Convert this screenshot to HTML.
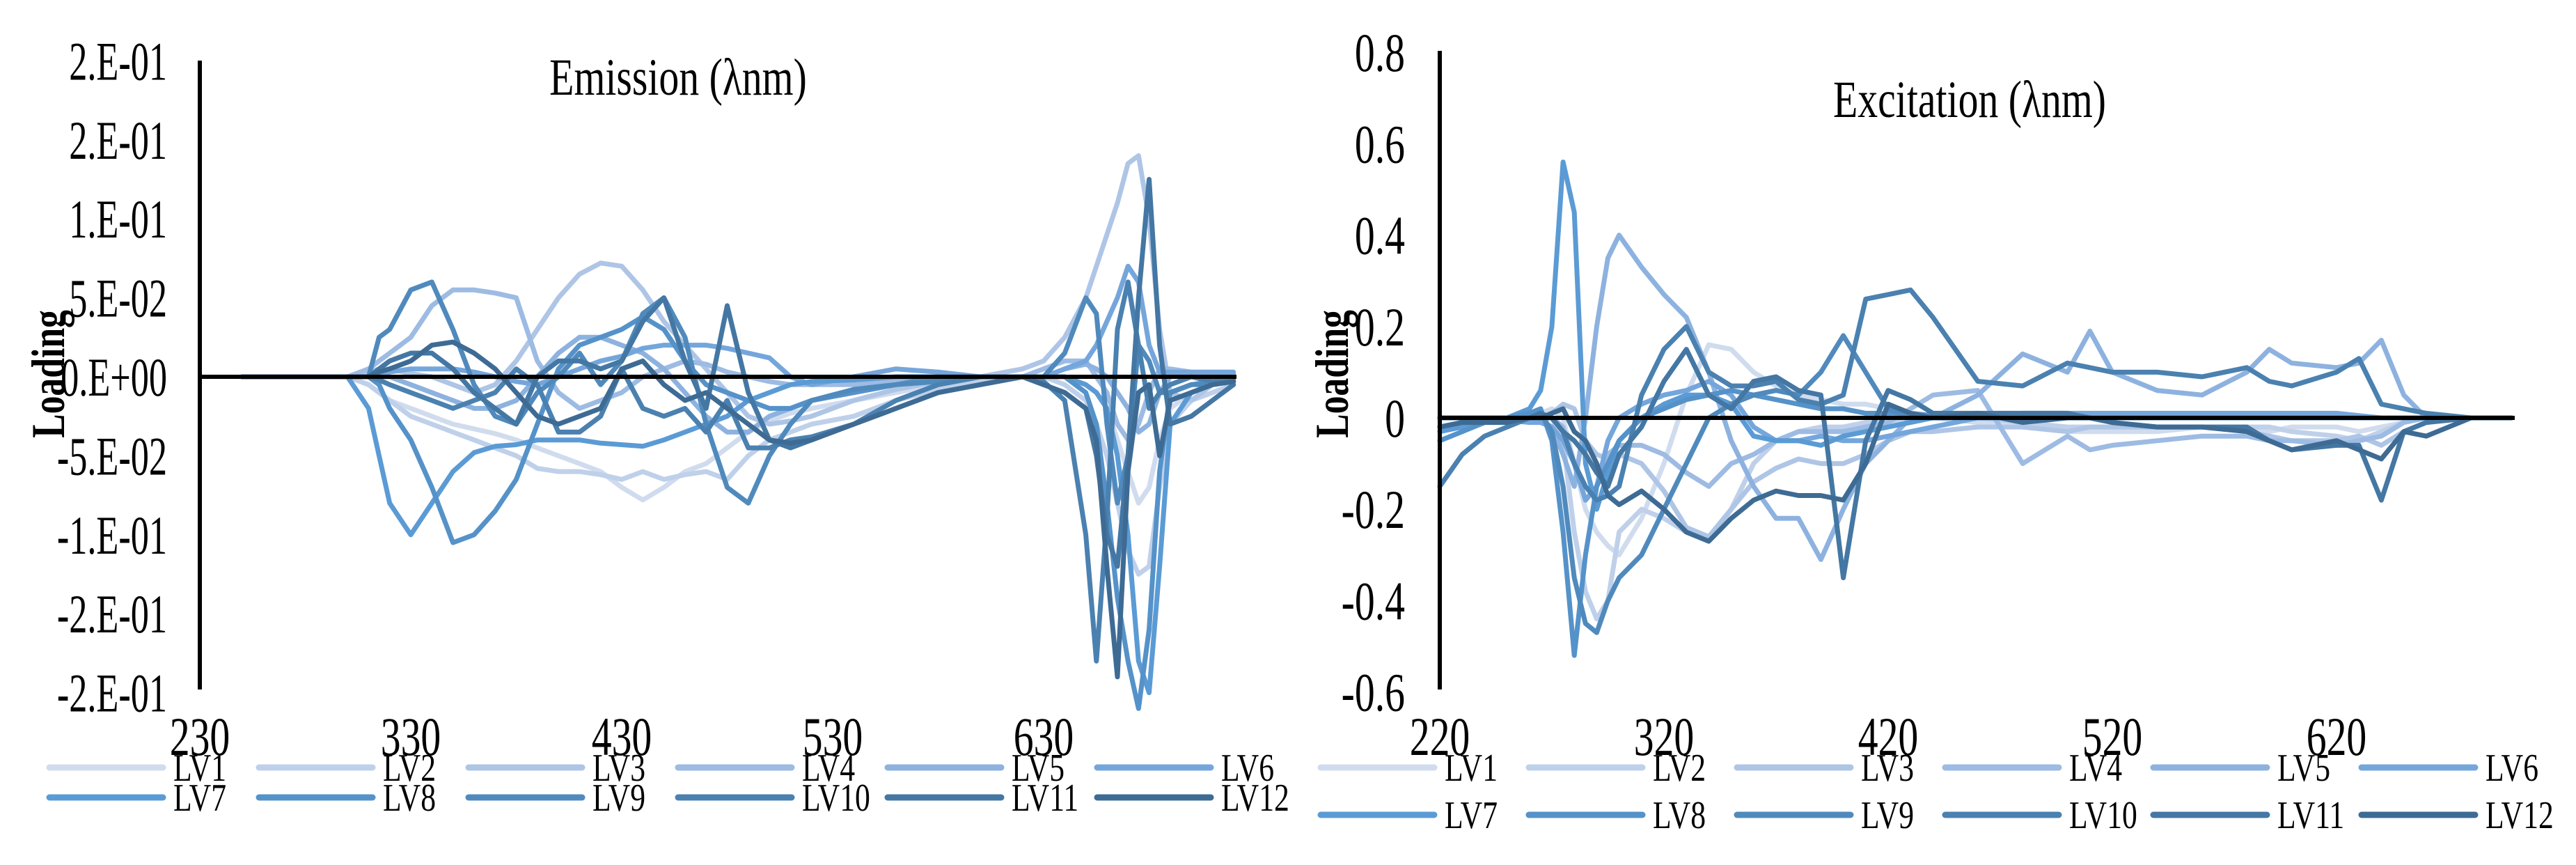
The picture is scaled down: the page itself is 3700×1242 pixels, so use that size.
<!DOCTYPE html>
<html><head><meta charset="utf-8"><style>
html,body{margin:0;padding:0;background:#fff;}
svg{display:block;font-family:"Liberation Serif",serif;}
</style></head><body>
<svg id="chart" width="3700" height="1242" viewBox="0 0 3700 1242" xmlns="http://www.w3.org/2000/svg">
<rect width="3700" height="1242" fill="#fff"/>
<g id="em"></g>
<g id="ex"></g>
</svg>
<script>
const colors=["#d0dcee","#bfd0ea","#aec5e6","#9dbbe3","#8db2df","#74a6dc","#5b9bd5","#5592c9","#508abd","#4a81b0","#4477a3","#3e6b94"];
const seriesNames=["LV1","LV2","LV3","LV4","LV5","LV6","LV7","LV8","LV9","LV10","LV11","LV12"];
const emTicksY=[0.2,0.15,0.1,0.05,0,-0.05,-0.1,-0.15,-0.2];
const emTickLabelsY=["2.E-01","2.E-01","1.E-01","5.E-02","0.E+00","-5.E-02","-1.E-01","-2.E-01","-2.E-01"];
const emTicksX=[230,330,430,530,630];
const exTicksY=[0.8,0.6,0.4,0.2,0,-0.2,-0.4,-0.6];
const exTickLabelsY=["0.8","0.6","0.4","0.2","0","-0.2","-0.4","-0.6"];
const exTicksX=[220,320,420,520,620];
const emWl=[250,270,290,300,310,315,320,330,340,350,360,370,380,390,400,410,420,430,440,450,460,470,480,490,500,510,520,540,560,580,600,620,630,640,650,655,660,665,670,675,680,685,690,700,710,720];
const emLV1=[0,0,0,0,-0.005,-0.01,-0.015,-0.02,-0.025,-0.03,-0.033,-0.036,-0.04,-0.045,-0.05,-0.055,-0.06,-0.07,-0.078,-0.07,-0.06,-0.055,-0.045,-0.035,-0.028,-0.023,-0.02,-0.015,-0.01,-0.005,-0.002,0,0,0,-0.005,-0.01,-0.02,-0.04,-0.06,-0.08,-0.07,-0.04,-0.02,-0.01,-0.005,-0.003];
const emLV2=[0,0,0,0,-0.005,-0.01,-0.015,-0.025,-0.03,-0.035,-0.04,-0.045,-0.05,-0.058,-0.06,-0.06,-0.062,-0.065,-0.06,-0.065,-0.062,-0.06,-0.065,-0.05,-0.04,-0.035,-0.03,-0.025,-0.015,-0.008,-0.003,0,0,-0.005,-0.015,-0.03,-0.05,-0.08,-0.11,-0.125,-0.12,-0.07,-0.03,-0.015,-0.01,-0.005];
const emLV3=[0,0,0,0,0.003,0.005,0.005,0.002,0,-0.005,-0.01,-0.005,0.01,0.03,0.05,0.065,0.072,0.07,0.055,0.035,0.02,0.005,-0.01,-0.025,-0.03,-0.028,-0.025,-0.015,-0.008,-0.003,0,0.005,0.01,0.025,0.05,0.07,0.09,0.11,0.135,0.14,0.1,0.03,-0.01,-0.015,-0.005,0];
const emLV4=[0,0,0,0,0.005,0.01,0.015,0.025,0.045,0.055,0.055,0.053,0.05,0.01,-0.01,-0.02,-0.015,-0.01,0,0.005,0.01,0.008,0.003,0,-0.003,-0.005,-0.005,-0.005,-0.003,0,0,0,0.005,0.01,0.01,0,-0.01,-0.03,-0.04,-0.03,-0.01,0.005,0.005,0.003,0.002,0.002];
const emLV5=[0,0,0,0,0,0,0,-0.005,-0.01,-0.015,-0.02,-0.02,-0.015,0,0.015,0.025,0.025,0.02,0.015,0.005,-0.01,-0.025,-0.035,-0.035,-0.025,-0.02,-0.015,-0.01,-0.005,-0.003,0,0,0,0.005,0.008,0.005,0,-0.01,-0.02,-0.035,-0.03,-0.01,0,0.002,0.002,0.002];
const emLV6=[0,0,0,0,0,0.002,0.003,0.005,0.005,0.005,0.003,0,-0.003,-0.005,0,0.005,0.01,0.013,0.018,0.02,0.02,0.02,0.018,0.015,0.012,0,-0.005,0,0.005,0.003,0,0,0,0.005,0.01,0.02,0.035,0.05,0.07,0.06,0.02,0.003,0.003,0.003,0.003,0.003];
const emLV7=[0,0,0,0,-0.02,-0.05,-0.08,-0.1,-0.08,-0.06,-0.048,-0.044,-0.043,-0.04,-0.04,-0.04,-0.042,-0.043,-0.044,-0.04,-0.035,-0.03,-0.025,-0.015,-0.01,-0.005,-0.003,-0.002,0,0,0,0,0,0,-0.005,-0.01,-0.02,-0.05,-0.1,-0.18,-0.2,-0.12,-0.03,-0.01,-0.005,-0.003];
const emLV8=[0,0,0,0,0,-0.005,-0.02,-0.04,-0.07,-0.105,-0.1,-0.085,-0.065,-0.03,0.005,0.02,0.025,0.03,0.038,0.03,0.01,-0.005,-0.01,-0.015,-0.02,-0.02,-0.015,-0.01,-0.005,0,0,0,0,0,-0.01,-0.03,-0.08,-0.14,-0.18,-0.21,-0.16,-0.06,-0.01,-0.005,-0.003,-0.002];
const emLV9=[0,0,0,0,0,0.025,0.03,0.055,0.06,0.03,-0.005,-0.025,-0.03,-0.01,0,0.015,-0.005,0.01,0.04,0.05,0.025,-0.03,-0.07,-0.08,-0.05,-0.03,-0.015,-0.008,-0.005,-0.003,0,0,0,0.015,0.05,0.04,-0.03,-0.08,-0.05,0.02,0.01,-0.01,-0.01,-0.005,-0.005,-0.003];
const emLV10=[0,0,0,0,0,-0.002,-0.005,-0.01,-0.015,-0.02,-0.015,-0.01,0.005,-0.005,-0.035,-0.035,-0.025,0.005,-0.02,-0.025,-0.02,-0.035,-0.015,-0.045,-0.045,-0.04,-0.038,-0.03,-0.015,-0.005,0,0,-0.003,-0.015,-0.1,-0.18,-0.09,0.03,0.06,0.02,-0.02,-0.01,-0.005,0,-0.003,-0.003];
const emLV11=[0,0,0,0,0,0.005,0.01,0.015,0.015,0.005,-0.01,-0.02,-0.03,0,0.01,0.01,0.005,0.01,0.035,0.05,0.01,-0.02,0.045,-0.01,-0.04,-0.045,-0.04,-0.03,-0.02,-0.01,-0.005,0,-0.005,-0.01,-0.02,-0.05,-0.1,-0.12,-0.05,0.05,0.125,0.02,-0.03,-0.025,-0.015,-0.005];
const emLV12=[0,0,0,0,0,0.003,0.005,0.01,0.02,0.022,0.015,0.005,-0.01,-0.025,-0.03,-0.025,-0.02,0.005,0.01,-0.005,-0.015,-0.01,-0.02,-0.03,-0.04,-0.042,-0.04,-0.03,-0.02,-0.01,-0.005,0,-0.005,-0.01,-0.02,-0.04,-0.12,-0.19,-0.06,-0.01,-0.005,-0.05,-0.015,-0.01,-0.005,-0.003];
const exWl=[220,230,240,250,260,265,270,275,280,285,290,295,300,310,320,330,340,350,360,370,380,390,400,410,420,430,440,460,480,500,510,520,540,560,580,590,600,620,630,640,650,660,680,698];
const exLV1=[0,0,0,0,0.005,0.01,0.02,0,-0.1,-0.2,-0.25,-0.28,-0.3,-0.22,-0.1,0.05,0.16,0.15,0.1,0.07,0.05,0.04,0.03,0.03,0.02,0.01,0,-0.01,-0.02,-0.03,-0.03,-0.03,-0.03,-0.02,-0.02,-0.03,-0.02,-0.02,-0.03,-0.02,-0.01,0,0,0];
const exLV2=[0,0,0,0,0,0,0,-0.05,-0.25,-0.38,-0.44,-0.4,-0.25,-0.2,-0.22,-0.25,-0.27,-0.2,-0.1,-0.05,-0.03,-0.02,-0.02,-0.01,-0.01,-0.005,0,0,-0.01,-0.02,-0.02,-0.02,-0.02,-0.02,-0.02,-0.02,-0.03,-0.04,-0.05,-0.03,-0.01,0,0,0];
const exLV3=[0,0,0,0,0,0,0.01,0.03,0.02,-0.05,-0.08,-0.09,-0.08,-0.1,-0.16,-0.24,-0.26,-0.2,-0.14,-0.11,-0.09,-0.1,-0.1,-0.08,-0.05,-0.03,-0.03,-0.02,-0.02,-0.03,-0.02,-0.02,-0.02,-0.02,-0.03,-0.04,-0.05,-0.05,-0.04,-0.06,-0.03,-0.01,0,0];
const exLV4=[0,0,0,0,0,0,0,-0.02,-0.1,-0.18,-0.15,-0.08,-0.06,-0.06,-0.08,-0.12,-0.15,-0.1,-0.08,-0.05,-0.03,-0.03,-0.03,-0.02,-0.01,0.02,0.05,0.06,-0.1,-0.04,-0.07,-0.06,-0.05,-0.04,-0.04,-0.05,-0.05,-0.06,-0.05,-0.04,-0.01,0,0,0];
const exLV5=[0,0,0,0,0,-0.005,-0.02,-0.08,-0.15,0,0.2,0.35,0.4,0.33,0.27,0.22,0.1,-0.05,-0.15,-0.22,-0.22,-0.31,-0.2,-0.1,-0.05,0,0,0.05,0.14,0.1,0.19,0.1,0.06,0.05,0.1,0.15,0.12,0.11,0.12,0.17,0.05,0,0,0];
const exLV6=[0,0,0,-0.005,-0.01,-0.01,-0.02,-0.05,-0.1,-0.18,-0.15,-0.05,0,0.03,0.05,0.06,0.08,0.05,-0.02,-0.05,-0.05,-0.04,-0.05,-0.05,-0.04,-0.03,-0.02,0,0.01,0.01,0.01,0.01,0.01,0.01,0.01,0.01,0.01,0.01,0.005,0,0,0,0,0];
const exLV7=[-0.03,-0.02,-0.01,0,0.02,0.06,0.2,0.56,0.45,-0.1,-0.2,-0.12,-0.05,0,0.03,0.05,0.05,0.03,-0.04,-0.05,-0.05,-0.06,-0.04,-0.03,-0.02,-0.01,0,0,0,0,0,0,0,0,0,0,0,0,0,0,0,0,0,0];
const exLV8=[-0.05,-0.03,-0.01,0,0.01,0.02,-0.05,-0.25,-0.52,-0.3,-0.15,-0.1,-0.05,0,0.02,0.04,0.05,0.06,0.05,0.04,0.03,0.02,0.02,0.01,0.01,0.01,0.005,0,0,0,0,0,0,0,0,0,0,0,0,0,0,0,0,0];
const exLV9=[-0.02,-0.01,0,0,0,0.01,-0.03,-0.15,-0.35,-0.45,-0.47,-0.4,-0.35,-0.3,-0.2,-0.1,0,0.03,0.05,0.06,0.05,0.1,0.18,0.1,0.02,0,0,0,0,0,0,0,0,0,0,0,0,0,0,0,0,0,0,0];
const exLV10=[-0.15,-0.08,-0.04,-0.02,0,0,0,-0.03,-0.1,-0.15,-0.18,-0.17,-0.15,0.05,0.15,0.2,0.1,0.07,0.07,0.08,0.04,0.03,0.05,0.26,0.27,0.28,0.22,0.08,0.07,0.12,0.11,0.1,0.1,0.09,0.11,0.08,0.07,0.1,0.13,0.03,0.02,0.01,0,0];
const exLV11=[0,0,0,0,0,0.01,0,-0.03,-0.05,-0.08,-0.12,-0.15,-0.08,-0.02,0.08,0.15,0.05,0.02,0.08,0.09,0.06,0.05,-0.35,-0.05,0.06,0.04,0.01,0.01,0.01,0.01,0,-0.01,-0.02,-0.02,-0.02,-0.05,-0.07,-0.06,-0.06,-0.18,-0.03,-0.01,0,0];
const exLV12=[-0.02,-0.01,-0.01,-0.01,0,0,0.01,0.02,-0.03,-0.05,-0.1,-0.17,-0.19,-0.16,-0.2,-0.25,-0.27,-0.22,-0.18,-0.16,-0.17,-0.17,-0.18,-0.1,0.03,0.01,0,0.01,-0.01,0,0,-0.01,-0.02,-0.02,-0.03,-0.05,-0.07,-0.05,-0.07,-0.09,-0.03,-0.04,0,0];
const emSeries=[emLV1,emLV2,emLV3,emLV4,emLV5,emLV6,emLV7,emLV8,emLV9,emLV10,emLV11,emLV12];
const exSeries=[exLV1,exLV2,exLV3,exLV4,exLV5,exLV6,exLV7,exLV8,exLV9,exLV10,exLV11,exLV12];

const NS="http://www.w3.org/2000/svg";
function mk(parent,tag,attrs,text){const e=document.createElementNS(NS,tag);for(const k in attrs)e.setAttribute(k,attrs[k]);if(text!==undefined)e.textContent=text;parent.appendChild(e);return e;}

function drawChart(cfg){
  const g=document.getElementById(cfg.id);
  const sx=v=>cfg.x0+(v-cfg.xmin)*cfg.xk;
  const sy=v=>cfg.zeroY-v*cfg.yk;
  cfg.series.forEach((arr,i)=>{
    let d="";const n=Math.min(arr.length,cfg.wl.length);
    for(let j=0;j<n;j++){d+=(j?"L":"M")+sx(cfg.wl[j]).toFixed(1)+","+sy(arr[j]).toFixed(1);}
    const p=mk(g,"path",{d:d,fill:"none",stroke:colors[i],"stroke-width":7,"stroke-linejoin":"round","stroke-linecap":"round"});
    
    
  });
  const z=mk(g,"line",{x1:cfg.x0,x2:cfg.zeroEnd,y1:sy(0),y2:sy(0),stroke:"#000","stroke-width":6});
  
  
  const ax=mk(g,"line",{x1:cfg.x0,x2:cfg.x0,y1:cfg.axTop,y2:cfg.axBot,stroke:"#000","stroke-width":6});
  
  
  cfg.ticksY.forEach((v,i)=>{
    const t=mk(g,"text",{x:0,y:0,"font-size":78,"text-anchor":"end",transform:"translate("+cfg.yLabX+","+(sy(v)+27)+") scale("+cfg.yScale+",1)"},cfg.tickLabelsY[i]);
    
    
  });
  cfg.ticksX.forEach(v=>{
    const t=mk(g,"text",{x:0,y:0,"font-size":78,"text-anchor":"middle",transform:"translate("+sx(v)+",1084) scale(0.74,1)"},String(v));
    
    
  });
  const ti=mk(g,"text",{x:0,y:0,"font-size":75,"text-anchor":"middle",transform:"translate("+cfg.titleX+","+cfg.titleY+") scale(0.77,1)"},cfg.title);
  
  
  const yl=mk(g,"text",{x:0,y:0,"font-size":68,"font-weight":"bold","text-anchor":"middle",transform:"translate("+cfg.ylabX+",537) rotate(-90) scale(0.76,1)"},"Loading");
  
  
  seriesNames.forEach((nm,i)=>{
    const row=Math.floor(i/6),col=i%6;
    const lx=cfg.legX+col*cfg.legStep, ly=cfg.legRows[row];
    const lg=mk(g,"g",{});
    
    
    mk(lg,"line",{x1:lx,x2:lx+163,y1:ly,y2:ly,stroke:colors[i],"stroke-width":9,"stroke-linecap":"round"});
    mk(lg,"text",{x:0,y:0,"font-size":56,transform:"translate("+(lx+178)+","+(ly+19)+") scale(0.78,1)"},nm);
  });
}
drawChart({id:"em",wl:emWl,series:emSeries,x0:287,xmin:230,xk:3.03,zeroY:541,yk:2268,zeroEnd:1776,axTop:87,axBot:990,
  ticksY:emTicksY,tickLabelsY:emTickLabelsY,ticksX:emTicksX,yLabX:240,yScale:0.67,
  title:"Emission (λnm)",titleX:974,titleY:136,ylabX:92,legX:71,legStep:301,legRows:[1102,1145]});
drawChart({id:"ex",wl:exWl,series:exSeries,x0:2068,xmin:220,xk:3.22,zeroY:600,yk:656,zeroEnd:3612,axTop:73,axBot:990,
  ticksY:exTicksY,tickLabelsY:exTickLabelsY,ticksX:exTicksX,yLabX:2018,yScale:0.74,
  title:"Excitation (λnm)",titleX:2829,titleY:168,ylabX:1936,legX:1897,legStep:299,legRows:[1102,1170]});
</script>
</body></html>
